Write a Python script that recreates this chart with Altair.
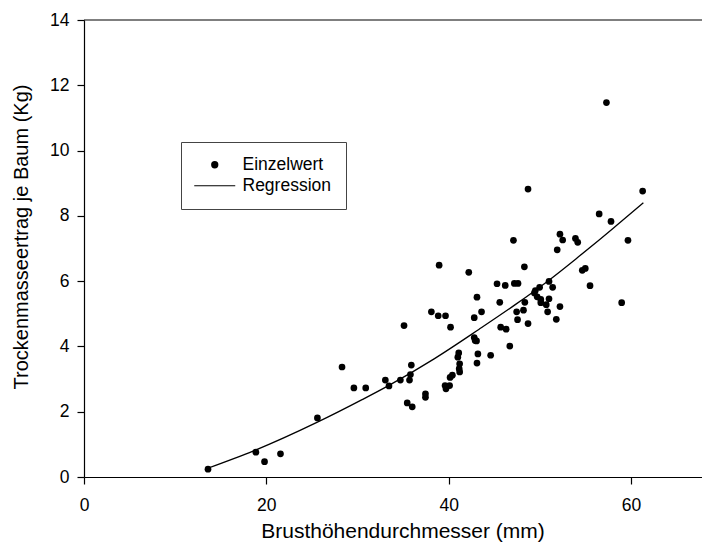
import altair as alt
import pandas as pd

# ---- data ----
x_vals = [13.6, 18.85, 19.8, 21.55, 25.6, 28.3, 29.6, 30.9, 33.05, 33.45,
          34.7, 35.1, 35.45, 35.7, 35.8, 35.9, 36.0, 37.45, 37.45, 38.1,
          38.85, 38.95, 39.65, 39.6, 39.7, 40.2, 40.1, 40.15, 40.4, 41.2,
          41.15, 41.2, 41.0, 41.1, 42.2, 42.8, 42.8, 42.9, 43.05, 43.1,
          43.2, 43.1, 43.6, 44.6, 45.3, 45.6, 45.7, 46.2, 46.3, 46.7,
          47.1, 47.2, 47.6, 47.45, 47.55, 48.2, 48.35, 48.3, 48.7, 48.7,
          49.4, 49.5, 49.7, 49.97, 50.1, 50.1, 50.7, 51.0, 50.85, 51.0,
          51.4, 51.8, 52.2, 51.9, 52.2, 52.5, 53.9, 54.15, 54.65, 54.98,
          55.5, 56.5, 57.8, 58.97, 59.66, 61.27, 57.3]
y_vals = [0.24, 0.76, 0.47, 0.71, 1.81, 3.37, 2.73, 2.73, 2.97, 2.79,
          2.97, 4.64, 2.27, 2.97, 3.14, 3.43, 2.15, 2.55, 2.44, 5.06,
          4.94, 6.49, 4.94, 2.80, 2.70, 4.59, 2.80, 3.05, 3.12, 3.22,
          3.32, 3.47, 3.67, 3.80, 6.27, 4.88, 4.27, 4.18, 4.17, 5.51,
          3.77, 3.49, 5.06, 3.73, 5.92, 5.35, 4.59, 5.87, 4.53, 4.01,
          7.25, 5.93, 5.93, 5.06, 4.82, 5.11, 5.35, 6.44, 4.70, 8.82,
          5.64, 5.71, 5.52, 5.81, 5.44, 5.34, 5.28, 5.46, 5.06, 5.99,
          5.81, 4.83, 5.22, 6.96, 7.44, 7.26, 7.31, 7.19, 6.33, 6.39,
          5.86, 8.06, 7.83, 5.34, 7.25, 8.76, 11.47]

reg_x = [13.5, 18.6, 25.6, 30.5, 33.4, 38.4, 43.3, 47.3, 51.0, 54.3, 56.5, 58.3, 61.35]
reg_y = [0.26, 0.80, 1.68, 2.37, 2.80, 3.62, 4.52, 5.28, 6.03, 6.76, 7.26, 7.68, 8.40]

series_names = ["Einzelwert", "Regression"]
x_ticks = [0, 20, 40, 60]
y_ticks = [0, 2, 4, 6, 8, 10, 12, 14]
x_title = "Brusthöhendurchmesser (mm)"
y_title = "Trockenmasseertrag je Baum (Kg)"

pts = pd.DataFrame({"x": x_vals, "y": y_vals, "series": series_names[0]})
reg = pd.DataFrame({"x": reg_x, "y": reg_y, "series": series_names[1]})
frame = pd.DataFrame({"y": [y_ticks[-1]]})

FONT = "Liberation Sans"
W, H = 618, 457

xscale = alt.Scale(domain=[0, 67.78], nice=False, zero=False)
yscale = alt.Scale(domain=[0, 14], nice=False)

x_axis = alt.Axis(values=x_ticks, title=x_title, grid=False, labelFlush=False,
                  labelPadding=12, titleX=318.5, titleY=60.5,
                  titleBaseline="alphabetic", titleFontSize=21)
y_axis = alt.Axis(values=y_ticks, title=y_title, grid=False, labelFlush=False,
                  labelPadding=8, titleX=-57, titleY=216.5,
                  titleBaseline="alphabetic", titleFontSize=20)

legend = alt.Legend(
    title=None, orient="none", legendX=97, legendY=122,
    padding=14, strokeColor="#444444", fillColor="white",
    symbolSize=53, symbolStrokeWidth=0, symbolFillColor="black",
    symbolOffset=11, labelOffset=19,
    labelFontSize=17.5, labelFont=FONT, labelColor="black", rowPadding=2,
)

line = alt.Chart(reg).mark_line(color="black", strokeWidth=1.3, interpolate="monotone").encode(
    x=alt.X("x:Q", scale=xscale, axis=x_axis),
    y=alt.Y("y:Q", scale=yscale, axis=y_axis),
)

points = alt.Chart(pts).mark_point(filled=True, size=45, opacity=1, color="black").encode(
    x=alt.X("x:Q", scale=xscale, axis=x_axis),
    y=alt.Y("y:Q", scale=yscale, axis=y_axis),
    shape=alt.Shape("series:N",
                    scale=alt.Scale(domain=series_names,
                                    range=["circle", "M-5.63,-0.17L5.63,-0.17L5.63,0.17L-5.63,0.17Z"]),
                    legend=legend),
)

top = alt.Chart(frame).mark_rule(color="black", strokeWidth=1.2).encode(
    y=alt.Y("y:Q", scale=yscale)
)

chart = (
    alt.layer(line, points, top)
    .properties(width=W, height=H,
                padding={"left": 76, "top": 12, "right": 0, "bottom": 66},
                autosize=alt.AutoSizeParams(type="none"))
    .configure_view(stroke="transparent")
    .configure_axis(domainColor="black", domainWidth=1.2, tickColor="black",
                    tickWidth=1.2, tickSize=7, labelFont=FONT, labelFontSize=17.5,
                    labelColor="black", titleFont=FONT, titleColor="black",
                    titleFontWeight="normal")
)

chart.save("out.html", embed_options={"renderer": "svg", "actions": False})
